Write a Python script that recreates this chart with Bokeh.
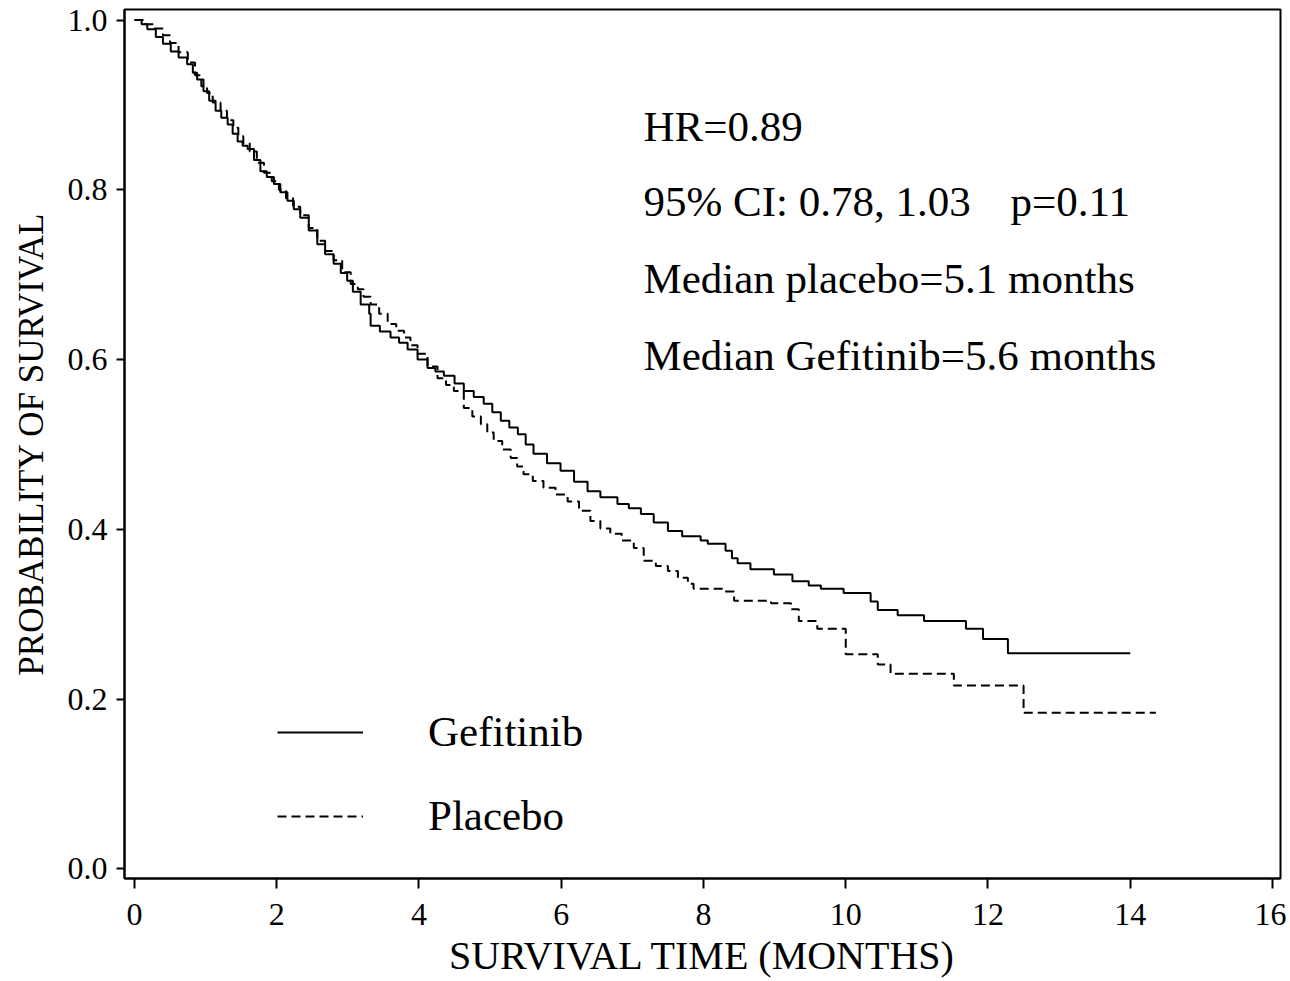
from bokeh.plotting import figure
from bokeh.models import (Range1d, FixedTicker, PrintfTickFormatter, Label,
                          Legend, LegendItem)
from bokeh.embed import file_html
from bokeh.resources import INLINE

# ---- data (Kaplan-Meier estimates) ----
gef_time = [0, 0.1, 0.18, 0.3, 0.4, 0.51, 0.62, 0.74, 0.82, 0.88, 0.97, 1.05,
            1.14, 1.22, 1.31, 1.38, 1.45, 1.52, 1.59, 1.68, 1.77, 1.86, 1.96,
            2.05, 2.15, 2.24, 2.33, 2.45, 2.57, 2.68, 2.8, 2.9, 2.99, 3.07,
            3.18, 3.3, 3.32, 3.45, 3.6, 3.72, 3.84, 3.98, 4.12, 4.23, 4.35,
            4.5, 4.63, 4.77, 4.91, 5.03, 5.15, 5.27, 5.39, 5.5, 5.61, 5.8,
            5.99, 6.18, 6.37, 6.55, 6.79, 6.95, 7.12, 7.3, 7.5, 7.7, 7.96,
            8.06, 8.31, 8.4, 8.48, 8.66, 8.99, 9.25, 9.48, 9.65, 9.97, 10.35,
            10.45, 10.73, 11.1, 11.69, 11.93, 12.28, 14.0]
gef_surv = [1.0, 0.995, 0.989, 0.98, 0.972, 0.963, 0.956, 0.948, 0.938, 0.93,
            0.916, 0.905, 0.893, 0.885, 0.877, 0.866, 0.857, 0.852, 0.848,
            0.835, 0.822, 0.815, 0.807, 0.797, 0.787, 0.777, 0.767, 0.752,
            0.736, 0.724, 0.713, 0.702, 0.693, 0.68, 0.665, 0.654, 0.64,
            0.633, 0.626, 0.62, 0.612, 0.6, 0.59, 0.586, 0.581, 0.572, 0.563,
            0.556, 0.548, 0.538, 0.528, 0.52, 0.512, 0.5, 0.489, 0.478, 0.469,
            0.456, 0.445, 0.438, 0.43, 0.425, 0.418, 0.408, 0.398, 0.392,
            0.387, 0.383, 0.375, 0.366, 0.36, 0.353, 0.347, 0.339, 0.334,
            0.33, 0.325, 0.315, 0.305, 0.299, 0.292, 0.283, 0.271, 0.254,
            0.254]

pla_time = [0, 0.15, 0.27, 0.4, 0.5, 0.62, 0.75, 0.85, 0.94, 1.02, 1.1, 1.21,
            1.3, 1.39, 1.46, 1.53, 1.62, 1.72, 1.82, 1.93, 2.03, 2.13, 2.23,
            2.33, 2.45, 2.57, 2.68, 2.8, 2.92, 3.04, 3.14, 3.22, 3.32, 3.44,
            3.56, 3.68, 3.79, 3.88, 3.98, 4.12, 4.26, 4.38, 4.49, 4.63, 4.75,
            4.87, 4.96, 5.05, 5.17, 5.29, 5.38, 5.47, 5.6, 5.75, 5.92, 6.09,
            6.25, 6.41, 6.55, 6.69, 6.85, 7.02, 7.16, 7.33, 7.5, 7.64, 7.78,
            7.86, 8.28, 8.43, 8.95, 9.23, 9.34, 9.6, 10.0, 10.45, 10.63,
            11.52, 12.5, 14.36]
pla_surv = [1.0, 0.995, 0.99, 0.982, 0.973, 0.962, 0.95, 0.935, 0.922, 0.914,
            0.903, 0.893, 0.882, 0.873, 0.863, 0.855, 0.845, 0.832, 0.82,
            0.81, 0.8, 0.79, 0.78, 0.77, 0.755, 0.74, 0.728, 0.717, 0.703,
            0.689, 0.683, 0.674, 0.665, 0.654, 0.642, 0.634, 0.626, 0.617,
            0.607, 0.592, 0.578, 0.57, 0.563, 0.543, 0.533, 0.524, 0.514,
            0.504, 0.494, 0.484, 0.474, 0.465, 0.457, 0.449, 0.441, 0.433,
            0.422, 0.41, 0.401, 0.395, 0.387, 0.378, 0.363, 0.357, 0.351,
            0.343, 0.336, 0.33, 0.327, 0.316, 0.313, 0.306, 0.292, 0.283,
            0.253, 0.241, 0.23, 0.216, 0.184, 0.184]

x_ticks = [0, 2, 4, 6, 8, 10, 12, 14, 16]
y_ticks = [0.0, 0.2, 0.4, 0.6, 0.8, 1.0]
series_names = ["Gefitinib", "Placebo"]
stats_lines = ["HR=0.89", "95% CI: 0.78, 1.03", "Median placebo=5.1 months",
               "Median Gefitinib=5.6 months"]
p_value_text = "p=0.11"

FONT = "Liberation Serif"

p = figure(width=1286, height=980, output_backend="svg", toolbar_location=None,
           x_range=Range1d(-0.1406, 16.1125), y_range=Range1d(-0.0112, 1.0124),
           min_border_left=124, min_border_right=6, min_border_top=9,
           min_border_bottom=102)
p.background_fill_color = "white"
p.border_fill_color = "white"
p.outline_line_color = "black"
p.outline_line_width = 2
p.grid.visible = False

# axes
p.xaxis.ticker = FixedTicker(ticks=x_ticks)
p.yaxis.ticker = FixedTicker(ticks=y_ticks)
p.yaxis.formatter = PrintfTickFormatter(format="%.1f")
for ax in (p.xaxis[0], p.yaxis[0]):
    ax.axis_line_color = "black"
    ax.axis_line_width = 2
    ax.major_tick_line_color = "black"
    ax.major_tick_line_width = 2
    ax.major_tick_in = 0
    ax.minor_tick_line_color = None
    ax.major_label_text_font = FONT
    ax.major_label_text_font_size = "32px"
    ax.major_label_text_color = "black"
    ax.axis_label_text_font = FONT
    ax.axis_label_text_font_style = "normal"
    ax.axis_label_text_color = "black"
p.xaxis.major_tick_out = 10
p.yaxis.major_tick_out = 8
p.xaxis.major_label_standoff = 15
p.yaxis.major_label_standoff = 9
p.xaxis.axis_label = "SURVIVAL TIME (MONTHS)"
p.yaxis.axis_label = "PROBABILITY OF SURVIVAL"
p.xaxis.axis_label_text_font_size = "40px"
p.yaxis.axis_label_text_font_size = "35px"
p.xaxis.axis_label_standoff = 5
p.yaxis.axis_label_standoff = 14

# curves
r_gef = p.step(gef_time, gef_surv, mode="after", line_color="black",
               line_width=2)
r_pla = p.step(pla_time, pla_surv, mode="after", line_color="black",
               line_width=2, line_dash="9 5")

# legend
legend = Legend(items=[LegendItem(label=series_names[0], renderers=[r_gef]),
                       LegendItem(label=series_names[1], renderers=[r_pla])],
                location=(153, 38), orientation="vertical",
                glyph_width=86, glyph_height=40, label_height=40,
                label_standoff=65, spacing=35, padding=0, margin=0,
                border_line_color=None, background_fill_alpha=0,
                label_text_font=FONT, label_text_font_size="43px",
                label_text_color="black")
p.add_layout(legend)

# statistics text
stat_x = 7.156
stat_y = [0.8748, 0.7857, 0.6955, 0.6049]
for txt, yy in zip(stats_lines, stat_y):
    p.add_layout(Label(x=stat_x, y=yy, text=txt, text_font=FONT,
                       text_font_size="43px", text_color="black",
                       text_baseline="alphabetic"))
p.add_layout(Label(x=12.316, y=stat_y[1], text=p_value_text, text_font=FONT,
                   text_font_size="43px", text_color="black",
                   text_baseline="alphabetic"))

open("out.html", "w").write(file_html(p, INLINE))
